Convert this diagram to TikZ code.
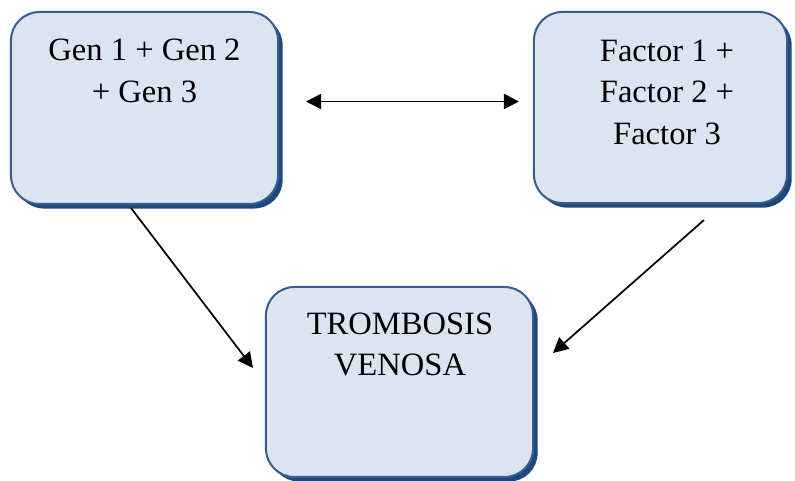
\documentclass[tikz,border=0pt]{standalone}
\usepackage{fontspec}
\setmainfont{Liberation Serif}
\usepackage{xcolor}
\usepackage{tikz}
\usetikzlibrary{
    shapes,
    positioning,
    shadows,
    calc,
    arrows.meta
}
\definecolor{boxfill}{RGB}{219,229,241}
\definecolor{boxline}{RGB}{56,93,138}
\definecolor{boxshade}{RGB}{31,73,125}
\tikzset{
  box/.style = {
      draw=boxline,
      line width=0.7pt,
      rectangle,
      rounded corners=10pt,
      fill=boxfill,
      inner sep=0pt,
      drop shadow={shadow xshift=1.6pt, shadow yshift=-1.6pt,
                   fill=boxshade, opacity=1}
  },
  boxtext/.style = {
      anchor=north,
      inner sep=0pt,
      align=center,
      font=\fontsize{11.4}{14.5}\selectfont
  },
  tip/.style = {
      Triangle[length=5.3pt,width=5.3pt]
  },
  link/.style = {
      line width=0.6pt,
      -{Triangle[length=5.3pt,width=5.3pt]}
  }
}

\begin{document}
\begin{tikzpicture}[x=0.35pt, y=-0.35pt]
        \useasboundingbox (0,0) rectangle (795,481);
        % Boxes
        \node[box, minimum width=93.5pt, minimum height=67.2pt] (gen) at (144.5,108) {};
        \node[box, minimum width=88.6pt, minimum height=66.9pt] (factor) at (660.5,107.5) {};
        \node[box, minimum width=93.5pt, minimum height=66.5pt] (tv) at (399.5,382) {};
        % Texts
        \node[boxtext] (gentext) at (144.5,38.5) {Gen 1 + Gen 2\\+ Gen 3};
        \node[boxtext] (factortext) at (667,39.5) {Factor 1 +\\Factor 2 +\\Factor 3};
        \node[boxtext] (tvtext) at (400,312) {TROMBOSIS\\VENOSA};
        % Arrow ends
        \coordinate (genleft) at (306,101.5);
        \coordinate (genright) at (519,101.5);
        \coordinate (genout) at (131,208);
        \coordinate (tvin1) at (253,368);
        \coordinate (factorout) at (704,220);
        \coordinate (tvin2) at (553,353);
        % Edges
        \path[draw, link, {Triangle[length=5.3pt,width=5.3pt]}-{Triangle[length=5.3pt,width=5.3pt]}]
        (genleft) -- (genright);
        \path[draw, link] (genout) -- (tvin1);
        \path[draw, link] (factorout) -- (tvin2);
    \end{tikzpicture}
\end{document}
